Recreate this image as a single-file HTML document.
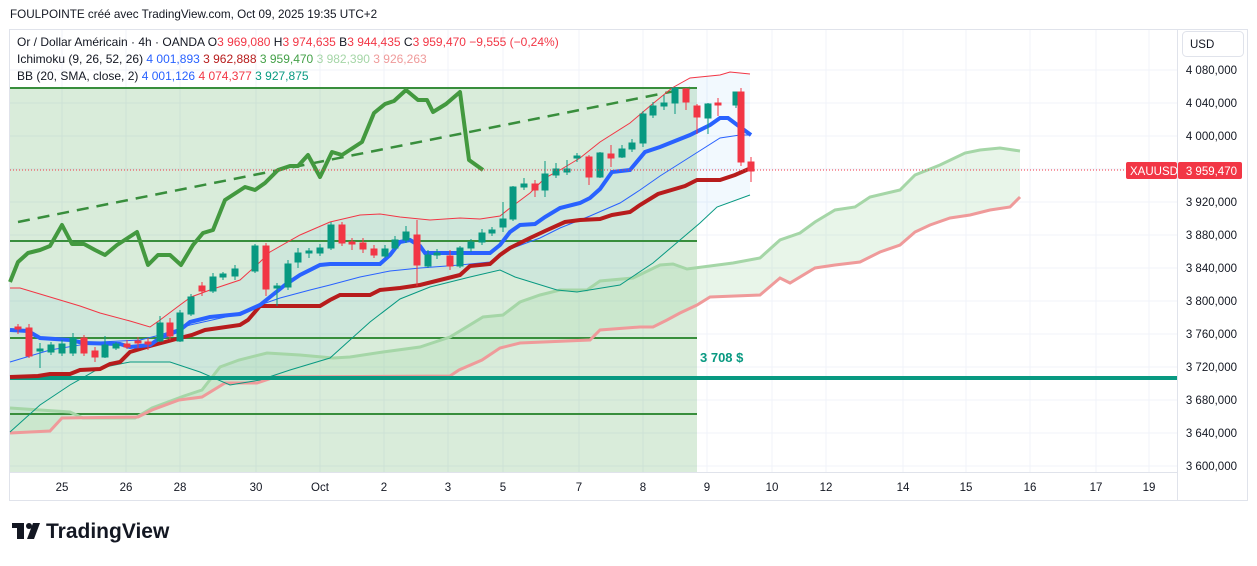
<!DOCTYPE html>
<html><head><meta charset="utf-8"><style>
body{margin:0;background:#fff;width:1257px;height:561px;overflow:hidden;font-family:"Liberation Sans",Arial,sans-serif}
svg text{font-family:"Liberation Sans",Arial,sans-serif}
</style></head><body>
<svg width="1257" height="561" viewBox="0 0 1257 561" xmlns="http://www.w3.org/2000/svg">
<text x="10" y="18" font-size="11.7" fill="#131722">FOULPOINTE créé avec TradingView.com, Oct 09, 2025 19:35 UTC+2</text>
<rect x="9.5" y="29.5" width="1238" height="471" fill="#fff" stroke="#e0e3eb"/>
<!-- grid -->
<g stroke="#f0f3fa" stroke-width="1">
<line x1="10" x2="1177" y1="70" y2="70"/><line x1="10" x2="1177" y1="103" y2="103"/><line x1="10" x2="1177" y1="136" y2="136"/><line x1="10" x2="1177" y1="169" y2="169"/><line x1="10" x2="1177" y1="202" y2="202"/><line x1="10" x2="1177" y1="235" y2="235"/><line x1="10" x2="1177" y1="268" y2="268"/><line x1="10" x2="1177" y1="301" y2="301"/><line x1="10" x2="1177" y1="334" y2="334"/><line x1="10" x2="1177" y1="367" y2="367"/><line x1="10" x2="1177" y1="400" y2="400"/><line x1="10" x2="1177" y1="433" y2="433"/><line x1="10" x2="1177" y1="466" y2="466"/>
<line y1="30" y2="472" x1="62" x2="62"/><line y1="30" y2="472" x1="126" x2="126"/><line y1="30" y2="472" x1="180" x2="180"/><line y1="30" y2="472" x1="256" x2="256"/><line y1="30" y2="472" x1="320" x2="320"/><line y1="30" y2="472" x1="384" x2="384"/><line y1="30" y2="472" x1="448" x2="448"/><line y1="30" y2="472" x1="503" x2="503"/><line y1="30" y2="472" x1="579" x2="579"/><line y1="30" y2="472" x1="643" x2="643"/><line y1="30" y2="472" x1="707" x2="707"/><line y1="30" y2="472" x1="772" x2="772"/><line y1="30" y2="472" x1="826" x2="826"/><line y1="30" y2="472" x1="903" x2="903"/><line y1="30" y2="472" x1="966" x2="966"/><line y1="30" y2="472" x1="1030" x2="1030"/><line y1="30" y2="472" x1="1096" x2="1096"/><line y1="30" y2="472" x1="1149" x2="1149"/>
</g>
<rect x="10" y="88" width="687" height="384" fill="rgba(67,160,71,0.2)"/>
<polygon fill="rgba(33,150,243,0.06)" points="10,288 20,288 40,294 80,306 100,313 130,321 150,327 160,320 180,305 191,297 210,290 240,280 260,262 270,252 300,235 330,222 360,215 380,214 400,217 430,220 460,218 480,219 500,216 510,208 530,193 545,178 560,170 580,158 600,142 630,123 650,106 672,88 690,78 720,75 730,72 750,74 750,195 717,207 700,223 653,263 620,285 577,292 557,290 515,277 500,270 470,277 430,287 400,299 370,322 350,340 330,358 290,370 260,380 230,385 200,372 170,362 130,362 100,368 70,385 40,405 10,432"/>
<polygon fill="rgba(165,214,167,0.25)" points="10,408 40,410 70,412 83,418 135,418 152,408 184,396 202,390 220,367 239,360 267,353 300,355 333,358 350,357 383,352 420,347 450,337 483,317 503,315 520,302 540,295 560,290 587,290 600,281 633,278 660,265 673,264 687,269 733,263 760,258 780,240 800,233 815,222 835,210 855,207 870,197 900,190 915,175 940,165 965,153 980,150 1000,148 1020,151 1020,197 1010,207 990,210 970,215 950,218 930,225 915,232 900,245 880,252 860,262 835,265 815,268 790,283 780,278 760,295 710,297 697,305 680,313 667,320 653,327 640,327 600,330 590,340 520,343 500,348 482,360 459,370 450,376 275,377 257,383 225,383 202,397 179,400 152,410 138,417 62,418 50,431 10,433"/>
<g stroke="#388e3c" stroke-width="2"><line x1="10" x2="697" y1="88" y2="88"/><line x1="10" x2="697" y1="241" y2="241"/><line x1="10" x2="697" y1="338" y2="338"/><line x1="10" x2="697" y1="414" y2="414"/></g>
<line x1="18" y1="222" x2="690" y2="88" stroke="#388e3c" stroke-width="2.5" stroke-dasharray="12,8"/>
<polyline fill="none" stroke="#a5d6a7" stroke-width="3" points="10,408 40,410 70,412 83,418 135,418 152,408 184,396 202,390 220,367 239,360 267,353 300,355 333,358 350,357 383,352 420,347 450,337 483,317 503,315 520,302 540,295 560,290 587,290 600,281 633,278 660,265 673,264 687,269 733,263 760,258 780,240 800,233 815,222 835,210 855,207 870,197 900,190 915,175 940,165 965,153 980,150 1000,148 1020,151"/>
<polyline fill="none" stroke="#ef9a9a" stroke-width="3" points="10,433 50,431 62,418 138,417 152,410 179,400 202,397 225,383 257,383 275,377 450,376 459,370 482,360 500,348 520,343 590,340 600,330 640,327 653,327 667,320 680,313 697,305 710,297 760,295 780,278 790,283 815,268 835,265 860,262 880,252 900,245 915,232 930,225 950,218 970,215 990,210 1010,207 1020,197"/>
<line x1="10" x2="1177" y1="378" y2="378" stroke="#089981" stroke-width="4"/>
<text x="700" y="362" font-size="13" font-weight="bold" fill="#089981">3 708 $</text>
<polyline fill="none" stroke="#f23645" stroke-width="1" points="10,288 20,288 40,294 80,306 100,313 130,321 150,327 160,320 180,305 191,297 210,290 240,280 260,262 270,252 300,235 330,222 360,215 380,214 400,217 430,220 460,218 480,219 500,216 510,208 530,193 545,178 560,170 580,158 600,142 630,123 650,106 672,88 690,78 720,75 730,72 750,74"/>
<polyline fill="none" stroke="#2962ff" stroke-width="1" points="10,362 50,350 80,345 100,342 140,340 160,335 190,325 230,316 260,305 280,298 310,290 330,285 360,277 390,271 420,268 460,265 490,262 510,249 540,238 560,228 590,216 620,203 640,190 660,176 690,157 720,138 740,135 751,135"/>
<polyline fill="none" stroke="#089981" stroke-width="1" points="10,432 40,405 70,385 100,368 130,362 170,362 200,372 230,385 260,380 290,370 330,358 350,340 370,322 400,299 430,287 470,277 500,270 515,277 557,290 577,292 620,285 653,263 700,223 717,207 750,195"/>
<polyline fill="none" stroke="#43993f" stroke-width="4" stroke-linejoin="round" points="10,282 18,262 28,253 40,250 50,246 62,225 72,244 84,244 95,250 105,255 117,245 137,232 148,265 158,255 170,255 181,265 193,245 203,233 213,230 225,200 245,187 255,190 265,183 278,170 290,166 298,166 308,155 320,177 332,152 342,155 362,142 374,113 385,104 394,101 406,90 418,100 427,100 433,112 446,104 460,92 469,160 483,170"/>
<polyline fill="none" stroke="#b71c1c" stroke-width="4" points="10,377 38,376 50,374 70,374 80,370 100,369 110,364 120,362 130,352 150,346 180,338 192,335 205,330 240,325 248,320 260,306 320,306 330,300 340,295 370,295 380,290 400,288 420,285 440,280 460,275 470,266 490,264 500,255 510,248 530,238 545,231 565,222 580,220 600,219 612,215 630,212 640,205 658,194 685,186 697,180 720,180 735,175 751,168"/>
<polyline fill="none" stroke="#2962ff" stroke-width="4" points="10,330 28,331 40,338 70,340 84,343 120,344 130,347 150,345 160,338 180,330 190,322 210,317 240,314 260,305 270,297 285,285 300,275 320,265 330,264 380,264 390,255 400,242 410,240 420,246 425,253 490,253 500,245 510,232 520,225 535,224 545,217 560,208 580,203 590,198 600,189 612,172 630,170 645,152 660,147 690,135 710,125 720,118 728,118 740,127 751,135"/>
<g stroke-width="1">
<g fill="#089981" stroke="#089981">
<line x1="40" x2="40" y1="343" y2="368"/><rect x="37" y="349" width="6" height="2"/>
<line x1="51" x2="51" y1="342" y2="355"/><rect x="48" y="345" width="6" height="7"/>
<line x1="62" x2="62" y1="340" y2="356"/><rect x="59" y="344" width="6" height="9"/>
<line x1="73" x2="73" y1="333" y2="356"/><rect x="70" y="338" width="6" height="15"/>
<line x1="105" x2="105" y1="336" y2="358"/><rect x="102" y="345" width="6" height="12"/>
<line x1="116" x2="116" y1="342" y2="350"/><rect x="113" y="344" width="6" height="4"/>
<line x1="160" x2="160" y1="316" y2="342"/><rect x="157" y="323" width="6" height="18"/>
<line x1="180" x2="180" y1="310" y2="342"/><rect x="177" y="313" width="6" height="28"/>
<line x1="191" x2="191" y1="294" y2="316"/><rect x="188" y="297" width="6" height="17"/>
<line x1="213" x2="213" y1="273" y2="293"/><rect x="210" y="277" width="6" height="14"/>
<line x1="223" x2="223" y1="272" y2="280"/><rect x="220" y="274" width="6" height="3"/>
<line x1="235" x2="235" y1="265" y2="280"/><rect x="232" y="269" width="6" height="7"/>
<line x1="255" x2="255" y1="244" y2="273"/><rect x="252" y="246" width="6" height="25"/>
<line x1="277" x2="277" y1="283" y2="306"/><rect x="274" y="286" width="6" height="2"/>
<line x1="288" x2="288" y1="260" y2="290"/><rect x="285" y="264" width="6" height="23"/>
<line x1="298" x2="298" y1="248" y2="268"/><rect x="295" y="253" width="6" height="9"/>
<line x1="309" x2="309" y1="248" y2="258"/><rect x="306" y="251" width="6" height="2"/>
<line x1="320" x2="320" y1="244" y2="256"/><rect x="317" y="248" width="6" height="5"/>
<line x1="331" x2="331" y1="222" y2="250"/><rect x="328" y="225" width="6" height="23"/>
<line x1="385" x2="385" y1="245" y2="258"/><rect x="382" y="249" width="6" height="7"/>
<line x1="395" x2="395" y1="236" y2="250"/><rect x="392" y="240" width="6" height="8"/>
<line x1="406" x2="406" y1="226" y2="243"/><rect x="403" y="232" width="6" height="8"/>
<line x1="428" x2="428" y1="250" y2="268"/><rect x="425" y="255" width="6" height="11"/>
<line x1="437" x2="437" y1="249" y2="259"/><rect x="434" y="253" width="6" height="2"/>
<line x1="460" x2="460" y1="246" y2="268"/><rect x="457" y="248" width="6" height="18"/>
<line x1="471" x2="471" y1="239" y2="252"/><rect x="468" y="242" width="6" height="6"/>
<line x1="482" x2="482" y1="229" y2="245"/><rect x="479" y="233" width="6" height="9"/>
<line x1="492" x2="492" y1="227" y2="236"/><rect x="489" y="230" width="6" height="3"/>
<line x1="503" x2="503" y1="202" y2="232"/><rect x="500" y="219" width="6" height="8"/>
<line x1="513" x2="513" y1="186" y2="221"/><rect x="510" y="187" width="6" height="32"/>
<line x1="524" x2="524" y1="178" y2="190"/><rect x="521" y="184" width="6" height="3"/>
<line x1="545" x2="545" y1="161" y2="197"/><rect x="542" y="174" width="6" height="16"/>
<line x1="556" x2="556" y1="163" y2="178"/><rect x="553" y="169" width="6" height="6"/>
<line x1="567" x2="567" y1="160" y2="175"/><rect x="564" y="169" width="6" height="3"/>
<line x1="577" x2="577" y1="153" y2="162"/><rect x="574" y="156" width="6" height="2"/>
<line x1="600" x2="600" y1="152" y2="178"/><rect x="597" y="153" width="6" height="24"/>
<line x1="622" x2="622" y1="145" y2="158"/><rect x="619" y="149" width="6" height="8"/>
<line x1="632" x2="632" y1="139" y2="152"/><rect x="629" y="143" width="6" height="6"/>
<line x1="643" x2="643" y1="111" y2="147"/><rect x="640" y="114" width="6" height="29"/>
<line x1="653" x2="653" y1="102" y2="118"/><rect x="650" y="106" width="6" height="9"/>
<line x1="664" x2="664" y1="95" y2="110"/><rect x="661" y="103" width="6" height="3"/>
<line x1="675" x2="675" y1="88" y2="114"/><rect x="672" y="88" width="6" height="15"/>
<line x1="708" x2="708" y1="103" y2="134"/><rect x="705" y="104" width="6" height="14"/>
<line x1="736" x2="736" y1="92" y2="108"/><rect x="733" y="92" width="6" height="13"/>
</g>
<g fill="#f23645" stroke="#f23645">
<line x1="18" x2="18" y1="324" y2="334"/><rect x="15" y="327" width="6" height="2"/>
<line x1="29" x2="29" y1="324" y2="358"/><rect x="26" y="328" width="6" height="28"/>
<line x1="84" x2="84" y1="335" y2="356"/><rect x="81" y="338" width="6" height="15"/>
<line x1="95" x2="95" y1="347" y2="362"/><rect x="92" y="351" width="6" height="6"/>
<line x1="127" x2="127" y1="340" y2="349"/><rect x="124" y="344" width="6" height="3"/>
<line x1="138" x2="138" y1="337" y2="348"/><rect x="135" y="341" width="6" height="2"/>
<line x1="148" x2="148" y1="338" y2="350"/><rect x="145" y="342" width="6" height="2"/>
<line x1="170" x2="170" y1="318" y2="340"/><rect x="167" y="323" width="6" height="13"/>
<line x1="202" x2="202" y1="282" y2="296"/><rect x="199" y="286" width="6" height="5"/>
<line x1="266" x2="266" y1="243" y2="296"/><rect x="263" y="246" width="6" height="43"/>
<line x1="342" x2="342" y1="222" y2="246"/><rect x="339" y="225" width="6" height="18"/>
<line x1="352" x2="352" y1="238" y2="250"/><rect x="349" y="242" width="6" height="2"/>
<line x1="363" x2="363" y1="238" y2="253"/><rect x="360" y="243" width="6" height="6"/>
<line x1="374" x2="374" y1="245" y2="258"/><rect x="371" y="249" width="6" height="6"/>
<line x1="417" x2="417" y1="220" y2="286"/><rect x="414" y="235" width="6" height="30"/>
<line x1="450" x2="450" y1="250" y2="270"/><rect x="447" y="256" width="6" height="10"/>
<line x1="535" x2="535" y1="180" y2="197"/><rect x="532" y="184" width="6" height="6"/>
<line x1="589" x2="589" y1="155" y2="185"/><rect x="586" y="157" width="6" height="20"/>
<line x1="611" x2="611" y1="145" y2="167"/><rect x="608" y="154" width="6" height="4"/>
<line x1="686" x2="686" y1="88" y2="110"/><rect x="683" y="89" width="6" height="13"/>
<line x1="697" x2="697" y1="104" y2="134"/><rect x="694" y="106" width="6" height="11"/>
<line x1="718" x2="718" y1="98" y2="116"/><rect x="715" y="103" width="6" height="2"/>
<line x1="741" x2="741" y1="88" y2="166"/><rect x="738" y="92" width="6" height="70"/>
<line x1="751" x2="751" y1="157" y2="182"/><rect x="748" y="162" width="6" height="9"/>
</g>
</g>
<line x1="10" x2="1126" y1="170" y2="170" stroke="#f23645" stroke-dasharray="1,2"/>
<line x1="1177.5" x2="1177.5" y1="30" y2="500" stroke="#e0e3eb"/>
<line x1="10" x2="1177" y1="472.5" y2="472.5" stroke="#e0e3eb"/>
<rect x="1182.5" y="31.5" width="61" height="25" rx="4" fill="#fff" stroke="#e0e3eb"/>
<text x="1190" y="48" font-size="11.5" fill="#131722">USD</text>
<g font-size="11.5" fill="#131722" text-anchor="end">
<text x="1237" y="74">4 080,000</text><text x="1237" y="107">4 040,000</text><text x="1237" y="140">4 000,000</text><text x="1237" y="206">3 920,000</text><text x="1237" y="239">3 880,000</text><text x="1237" y="272">3 840,000</text><text x="1237" y="305">3 800,000</text><text x="1237" y="338">3 760,000</text><text x="1237" y="371">3 720,000</text><text x="1237" y="404">3 680,000</text><text x="1237" y="437">3 640,000</text><text x="1237" y="470">3 600,000</text>
</g>
<rect x="1126" y="162" width="51" height="17" rx="2" fill="#f23645"/>
<rect x="1178" y="162" width="64" height="17" rx="2" fill="#f23645"/>
<text x="1130" y="175" font-size="11.5" fill="#fff">XAUUSD</text>
<text x="1237" y="175" font-size="11.5" fill="#fff" text-anchor="end">3 959,470</text>
<g font-size="11.5" fill="#131722" text-anchor="middle">
<text x="62" y="491">25</text><text x="126" y="491">26</text><text x="180" y="491">28</text><text x="256" y="491">30</text><text x="320" y="491">Oct</text><text x="384" y="491">2</text><text x="448" y="491">3</text><text x="503" y="491">5</text><text x="579" y="491">7</text><text x="643" y="491">8</text><text x="707" y="491">9</text><text x="772" y="491">10</text><text x="826" y="491">12</text><text x="903" y="491">14</text><text x="966" y="491">15</text><text x="1030" y="491">16</text><text x="1096" y="491">17</text><text x="1149" y="491">19</text>
</g>
<g font-size="12">
<text x="17" y="46"><tspan fill="#131722">Or / Dollar Américain · 4h · OANDA  O</tspan><tspan fill="#f23645">3 969,080 </tspan><tspan fill="#131722"> H</tspan><tspan fill="#f23645">3 974,635 </tspan><tspan fill="#131722"> B</tspan><tspan fill="#f23645">3 944,435 </tspan><tspan fill="#131722"> C</tspan><tspan fill="#f23645">3 959,470  −9,555 (−0,24%)</tspan></text>
<text x="17" y="63"><tspan fill="#131722">Ichimoku (9, 26, 52, 26) </tspan><tspan fill="#2962ff">4 001,893 </tspan><tspan fill="#b71c1c"> 3 962,888 </tspan><tspan fill="#43a047"> 3 959,470 </tspan><tspan fill="#a5d6a7"> 3 982,390 </tspan><tspan fill="#ef9a9a"> 3 926,263</tspan></text>
<text x="17" y="80"><tspan fill="#131722">BB (20, SMA, close, 2) </tspan><tspan fill="#2962ff">4 001,126 </tspan><tspan fill="#f23645"> 4 074,377 </tspan><tspan fill="#089981"> 3 927,875</tspan></text>
</g>
<g fill="#131722"><rect x="12" y="523" width="12" height="5"/><rect x="17" y="523" width="7" height="16"/><circle cx="29" cy="526" r="3"/><polygon points="33,523 40,523 34,539 27,539"/></g>
<text x="46" y="538" font-size="21" font-weight="bold" fill="#131722">TradingView</text>
</svg>
</body></html>
